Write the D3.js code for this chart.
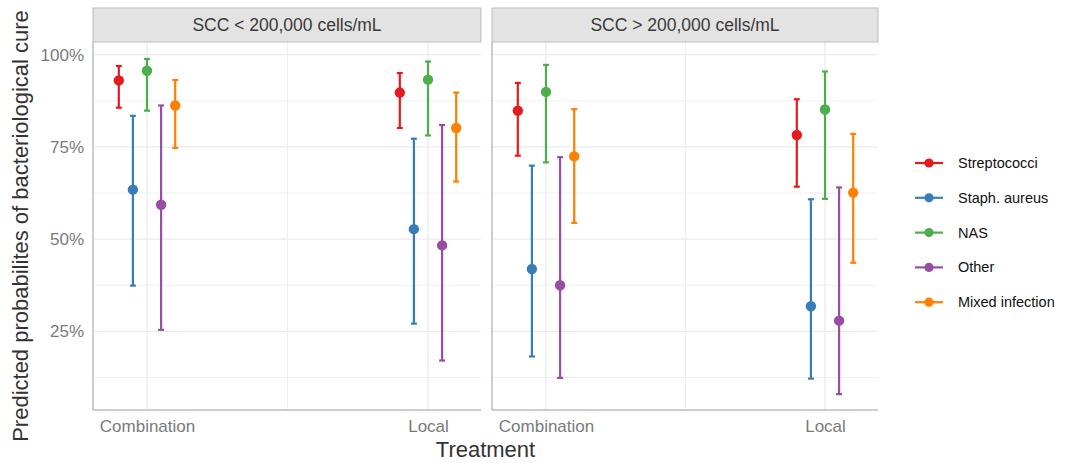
<!DOCTYPE html>
<html>
<head>
<meta charset="utf-8">
<script src="https://cdn.jsdelivr.net/npm/d3@7"></script>
<style>
  body { margin: 0; background: #fff; }
  svg { font-family: "Liberation Sans", Arial, sans-serif; }
</style>
</head>
<body>
<svg id="chart" width="1065" height="463"></svg>
<script>
// facets, x categories and groups
var facets = ['SCC < 200,000 cells/mL', 'SCC > 200,000 cells/mL'];
var treatments = ['Combination', 'Local'];
var pathogens = ['Streptococci', 'Staph. aureus', 'NAS', 'Other', 'Mixed infection'];
var colors = ['#E41A1C', '#377EB8', '#4DAF4A', '#984EA3', '#FF7F00'];

// one row per pathogen: [Combination, Local]
var estLow = [[0.930, 0.897], [0.634, 0.527], [0.956, 0.932], [0.593, 0.483], [0.862, 0.801]];
var lowerLow = [[0.856, 0.801], [0.374, 0.271], [0.848, 0.781], [0.254, 0.171], [0.747, 0.656]];
var upperLow = [[0.969, 0.950], [0.834, 0.772], [0.988, 0.981], [0.862, 0.809], [0.931, 0.897]];

var estHigh = [[0.848, 0.782], [0.419, 0.318], [0.899, 0.851], [0.375, 0.279], [0.724, 0.626]];
var lowerHigh = [[0.726, 0.642], [0.182, 0.122], [0.708, 0.609], [0.124, 0.080], [0.544, 0.436]];
var upperHigh = [[0.923, 0.879], [0.699, 0.608], [0.972, 0.954], [0.722, 0.640], [0.852, 0.785]];

var yTicks = [0.25, 0.5, 0.75, 1];
var yMinor = [0.125, 0.375, 0.625, 0.875];

var tables = [
    {est: estLow, lo: lowerLow, hi: upperLow},
    {est: estHigh, lo: lowerHigh, hi: upperHigh}
];

var svg = d3.select('#chart');

var panelTop = 42;
var panelBottom = 410;
var panels = [
    {left: 93, right: 481},
    {left: 492, right: 878}
];

var y = d3.scaleLinear()
    .domain([0.037, 1.034])
    .range([panelBottom, panelTop]);

// dodge offsets for the five groups
var dodge = d3.scalePoint()
    .domain(pathogens)
    .range([-28.2, 28.2]);

var gridColor = '#ebebeb';

panels.forEach((p, pi) => {
    var g = svg.append('g');

    var x = d3.scalePoint()
        .domain(treatments)
        .range([p.left + 54, p.right - 53]);

    // horizontal gridlines
    g.selectAll('.hminor')
        .data(yMinor).enter().append('line')
        .attr('x1', p.left).attr('x2', p.right)
        .attr('y1', d => y(d)).attr('y2', d => y(d))
        .attr('stroke', '#f0f0f0').attr('stroke-width', 1);
    g.selectAll('.hmajor')
        .data(yTicks).enter().append('line')
        .attr('x1', p.left).attr('x2', p.right)
        .attr('y1', d => y(d)).attr('y2', d => y(d))
        .attr('stroke', gridColor).attr('stroke-width', 1.3);

    // vertical gridlines (categories plus the midpoint)
    var xs = treatments.map(t => x(t));
    g.append('line')
        .attr('x1', (xs[0] + xs[1]) / 2).attr('x2', (xs[0] + xs[1]) / 2)
        .attr('y1', panelTop).attr('y2', panelBottom)
        .attr('stroke', '#f0f0f0').attr('stroke-width', 1);
    g.selectAll('.vmajor')
        .data(treatments).enter().append('line')
        .attr('x1', d => x(d)).attr('x2', d => x(d))
        .attr('y1', panelTop).attr('y2', panelBottom)
        .attr('stroke', gridColor).attr('stroke-width', 1.3);

    // strip
    svg.append('rect')
        .attr('x', p.left).attr('y', 8)
        .attr('width', p.right - p.left).attr('height', panelTop - 8)
        .attr('fill', '#e3e3e3')
        .attr('stroke', '#bdbdbd').attr('stroke-width', 1);
    svg.append('text')
        .attr('x', (p.left + p.right) / 2)
        .attr('y', 25)
        .attr('dy', '0.35em')
        .attr('text-anchor', 'middle')
        .style('font-size', '17.5px')
        .attr('fill', '#3a3a3a')
        .text(facets[pi]);

    // axes
    var xAxis = g.append('g')
        .attr('transform', `translate(0,${panelBottom})`)
        .call(d3.axisBottom(x).tickSize(0).tickPadding(10).tickSizeOuter(0));
    xAxis.select('.domain').remove();
    xAxis.append('line')
        .attr('x1', p.left).attr('x2', p.right)
        .attr('stroke', '#bdbdbd').attr('stroke-width', 1.5);
    xAxis.selectAll('text')
        .style('font-size', '17px')
        .attr('fill', '#7a7a7a');

    var yAxis = g.append('g')
        .attr('transform', `translate(${p.left},0)`)
        .call(d3.axisLeft(y).tickValues(yTicks).tickFormat(d3.format('.0%')).tickSize(0).tickPadding(9));
    yAxis.select('.domain').remove();
    yAxis.append('line')
        .attr('y1', panelTop).attr('y2', panelBottom)
        .attr('stroke', '#bdbdbd').attr('stroke-width', 1.5);
    yAxis.selectAll('text')
        .style('font-size', '17px')
        .attr('fill', '#7a7a7a');
    if (pi > 0) yAxis.selectAll('.tick').remove();

    // build rows from the arrays
    var t = tables[pi];
    var rows = [];
    pathogens.forEach((path, k) => {
        treatments.forEach((tr, j) => {
            rows.push({
                pathogen: path, color: colors[k], treatment: tr,
                est: t.est[k][j], lo: t.lo[k][j], hi: t.hi[k][j]
            });
        });
    });

    var cx = d => x(d.treatment) + dodge(d.pathogen);

    var bars = g.selectAll('.err')
        .data(rows).enter().append('g')
        .attr('stroke', d => d.color)
        .attr('stroke-width', 2.2);
    bars.append('line')
        .attr('x1', cx).attr('x2', cx)
        .attr('y1', d => y(d.lo)).attr('y2', d => y(d.hi));
    bars.append('line')
        .attr('x1', d => cx(d) - 3).attr('x2', d => cx(d) + 3)
        .attr('y1', d => y(d.lo)).attr('y2', d => y(d.lo));
    bars.append('line')
        .attr('x1', d => cx(d) - 3).attr('x2', d => cx(d) + 3)
        .attr('y1', d => y(d.hi)).attr('y2', d => y(d.hi));

    g.selectAll('.pt')
        .data(rows).enter().append('circle')
        .attr('cx', cx)
        .attr('cy', d => y(d.est))
        .attr('r', 5.2)
        .attr('fill', d => d.color);
});

// axis titles
svg.append('text')
    .attr('x', (panels[0].left + panels[1].right) / 2)
    .attr('y', 457)
    .attr('text-anchor', 'middle')
    .style('font-size', '22px')
    .attr('fill', '#333')
    .text('Treatment');

svg.append('text')
    .attr('transform', `translate(28,${(panelTop + panelBottom) / 2}) rotate(-90)`)
    .attr('text-anchor', 'middle')
    .style('font-size', '22px')
    .attr('fill', '#333')
    .text('Predicted probabilites of bacteriological cure');

// legend
var legend = svg.append('g')
    .attr('transform', 'translate(915,163)');

var items = legend.selectAll('g')
    .data(pathogens).enter().append('g')
    .attr('transform', (d, i) => `translate(0,${i * 34.8})`);

items.append('line')
    .attr('x1', 0).attr('x2', 28)
    .attr('stroke', (d, i) => colors[i])
    .attr('stroke-width', 2.2);
items.append('circle')
    .attr('cx', 14).attr('r', 4.6)
    .attr('fill', (d, i) => colors[i]);
items.append('text')
    .attr('x', 43)
    .attr('dy', '0.35em')
    .style('font-size', '14.5px')
    .attr('fill', '#111')
    .text(d => d);
</script>
</body>
</html>
